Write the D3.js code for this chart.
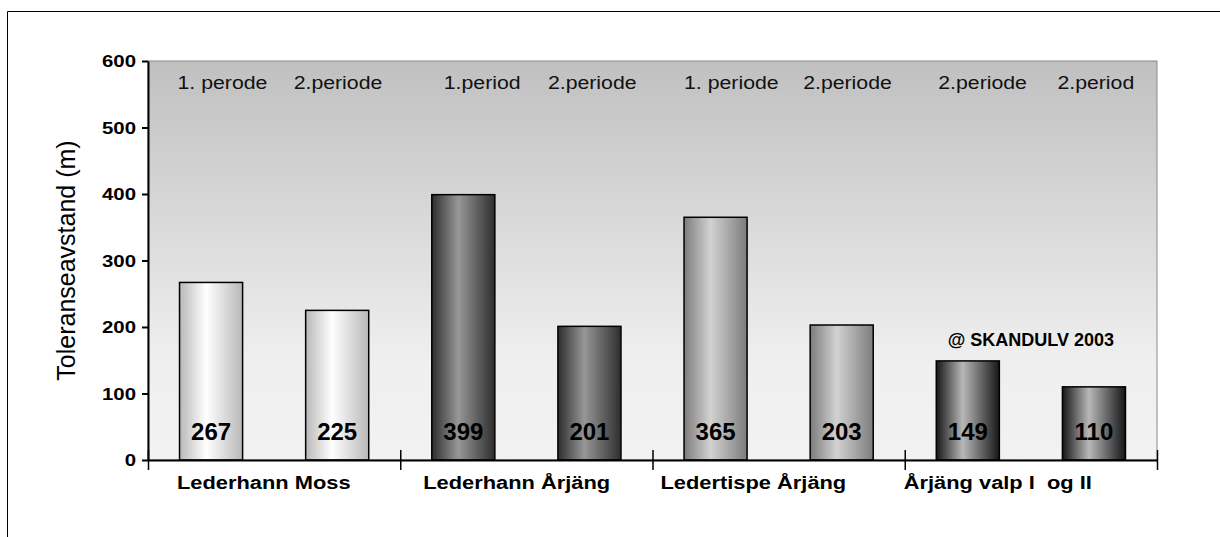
<!DOCTYPE html>
<html>
<head>
<meta charset="utf-8">
<script src="https://cdn.jsdelivr.net/npm/d3@7"></script>
<style>
body { margin: 0; background: #fff; }
text { font-family: "Liberation Sans", Arial, sans-serif; }
</style>
</head>
<body>
<svg id="chart"></svg>
<script>
// data
var groups = ["Lederhann Moss", "Lederhann Årjäng", "Ledertispe Årjäng", "Årjäng valp I  og II"];
var periods = ["1. perode", "2.periode", "1.period", "2.periode", "1. periode", "2.periode", "2.periode", "2.period"];
var values = [267, 225, 399, 201, 365, 203, 149, 110];
var yTicks = [0, 100, 200, 300, 400, 500, 600];

// bar shading per group: [edge, centre]
var shades = [["#b8b8b8", "#ffffff"], ["#2e2e2e", "#979797"], ["#7c7c7c", "#d2d2d2"], ["#161616", "#b8b8b8"]];
// small label nudges so they sit like the original
var periodNudge = [-2, -12, 12, -10, 0, -7, 2, -5];
var groupNudge = [29, 23, 8, -1];

var width = 1220, height = 537;

var svg = d3.select("#chart")
    .attr("width", width)
    .attr("height", height);

var x = d3.scaleLinear().domain([0, 8]).range([148, 1157]);
var y = d3.scaleLinear().domain([0, 600]).range([460, 61]);

var defs = svg.append("defs");

var bg = defs.append("linearGradient").attr("id", "bg")
    .attr("x1", 0).attr("y1", 0).attr("x2", 0).attr("y2", 1);
bg.append("stop").attr("offset", 0).attr("stop-color", "#c0c0c0");
bg.append("stop").attr("offset", 0.75).attr("stop-color", "#efefef");
bg.append("stop").attr("offset", 1).attr("stop-color", "#f2f2f2");

shades.forEach(function(s, i) {
    var g = defs.append("linearGradient").attr("id", "bar" + i)
        .attr("x1", 0).attr("y1", 0).attr("x2", 1).attr("y2", 0);
    g.append("stop").attr("offset", 0).attr("stop-color", s[0]);
    g.append("stop").attr("offset", 0.42).attr("stop-color", s[1]);
    g.append("stop").attr("offset", 1).attr("stop-color", s[0]);
});

// outer frame (only top and left are visible)
svg.append("line").attr("x1", 7.5).attr("y1", 11.5).attr("x2", width).attr("y2", 11.5)
    .attr("stroke", "#000").attr("stroke-width", 1);
svg.append("line").attr("x1", 7.5).attr("y1", 11.5).attr("x2", 7.5).attr("y2", height)
    .attr("stroke", "#000").attr("stroke-width", 1);

// plot background
svg.append("rect")
    .attr("x", x(0)).attr("y", y(600))
    .attr("width", x(8) - x(0)).attr("height", y(0) - y(600))
    .attr("fill", "url(#bg)")
    .attr("stroke", "#8a8a8a").attr("stroke-width", 1);

// bars
svg.selectAll(".bar")
    .data(values)
    .enter()
    .append("rect")
    .attr("class", "bar")
    .attr("x", function(d, i) { return x(i + 0.25); })
    .attr("y", function(d) { return y(d); })
    .attr("width", function(d, i) { return x(i + 0.75) - x(i + 0.25); })
    .attr("height", function(d) { return y(0) - y(d); })
    .attr("fill", function(d, i) { return "url(#bar" + Math.floor(i / 2) + ")"; })
    .attr("stroke", "#000")
    .attr("stroke-width", 1.5);

// value labels inside bars
svg.selectAll(".val")
    .data(values)
    .enter()
    .append("text")
    .attr("class", "val")
    .attr("x", function(d, i) { return x(i + 0.5); })
    .attr("y", y(0) - 20)
    .attr("text-anchor", "middle")
    .style("font-size", "24px")
    .style("font-weight", "bold")
    .text(function(d) { return d; });

// period labels along the top (text in the original is a bit wide)
svg.selectAll(".per")
    .data(periods)
    .enter()
    .append("text")
    .attr("class", "per")
    .attr("transform", function(d, i) {
        return "translate(" + (x(i + 0.25) + periodNudge[i]) + ",89) scale(1.12,1)";
    })
    .style("font-size", "19px")
    .style("fill", "#111")
    .text(function(d) { return d; });

// watermark
svg.append("text")
    .attr("x", x(7))
    .attr("y", y(172))
    .attr("text-anchor", "middle")
    .style("font-size", "18px")
    .style("font-weight", "bold")
    .text("@ SKANDULV 2003");

// y axis
var yAxis = svg.append("g")
    .attr("transform", "translate(" + x(0) + ",0)")
    .call(d3.axisLeft(y).tickValues(yTicks).tickSize(6).tickSizeOuter(0).tickPadding(12));
yAxis.select(".domain").attr("stroke-width", 2);
yAxis.selectAll(".tick line").attr("stroke-width", 2);
yAxis.selectAll(".tick text")
    .attr("x", -10)
    .attr("dy", "0.35em")
    .attr("transform", "scale(1.2,1)")
    .style("font-family", "Liberation Sans, Arial, sans-serif")
    .style("font-size", "17px")
    .style("font-weight", "bold")
    .attr("fill", "#000");

// x axis with group separators
var xAxis = svg.append("g")
    .attr("transform", "translate(0," + y(0) + ")")
    .call(d3.axisBottom(x).tickValues([0, 2, 4, 6, 8]).tickSize(10).tickSizeOuter(0).tickFormat(""));
xAxis.select(".domain").attr("stroke-width", 2);
xAxis.selectAll(".tick line").attr("y1", -10).attr("stroke-width", 1.5);

// group labels
svg.selectAll(".grp")
    .data(groups)
    .enter()
    .append("text")
    .attr("class", "grp")
    .attr("transform", function(d, i) {
        return "translate(" + (x(i * 2) + groupNudge[i]) + ",489) scale(1.15,1)";
    })
    .style("font-size", "19px")
    .style("font-weight", "bold")
    .style("white-space", "pre")
    .text(function(d) { return d; });

// y title
svg.append("text")
    .attr("transform", "translate(75," + y(300) + ") rotate(-90)")
    .attr("text-anchor", "middle")
    .style("font-size", "25px")
    .text("Toleranseavstand (m)");
</script>
</body>
</html>
